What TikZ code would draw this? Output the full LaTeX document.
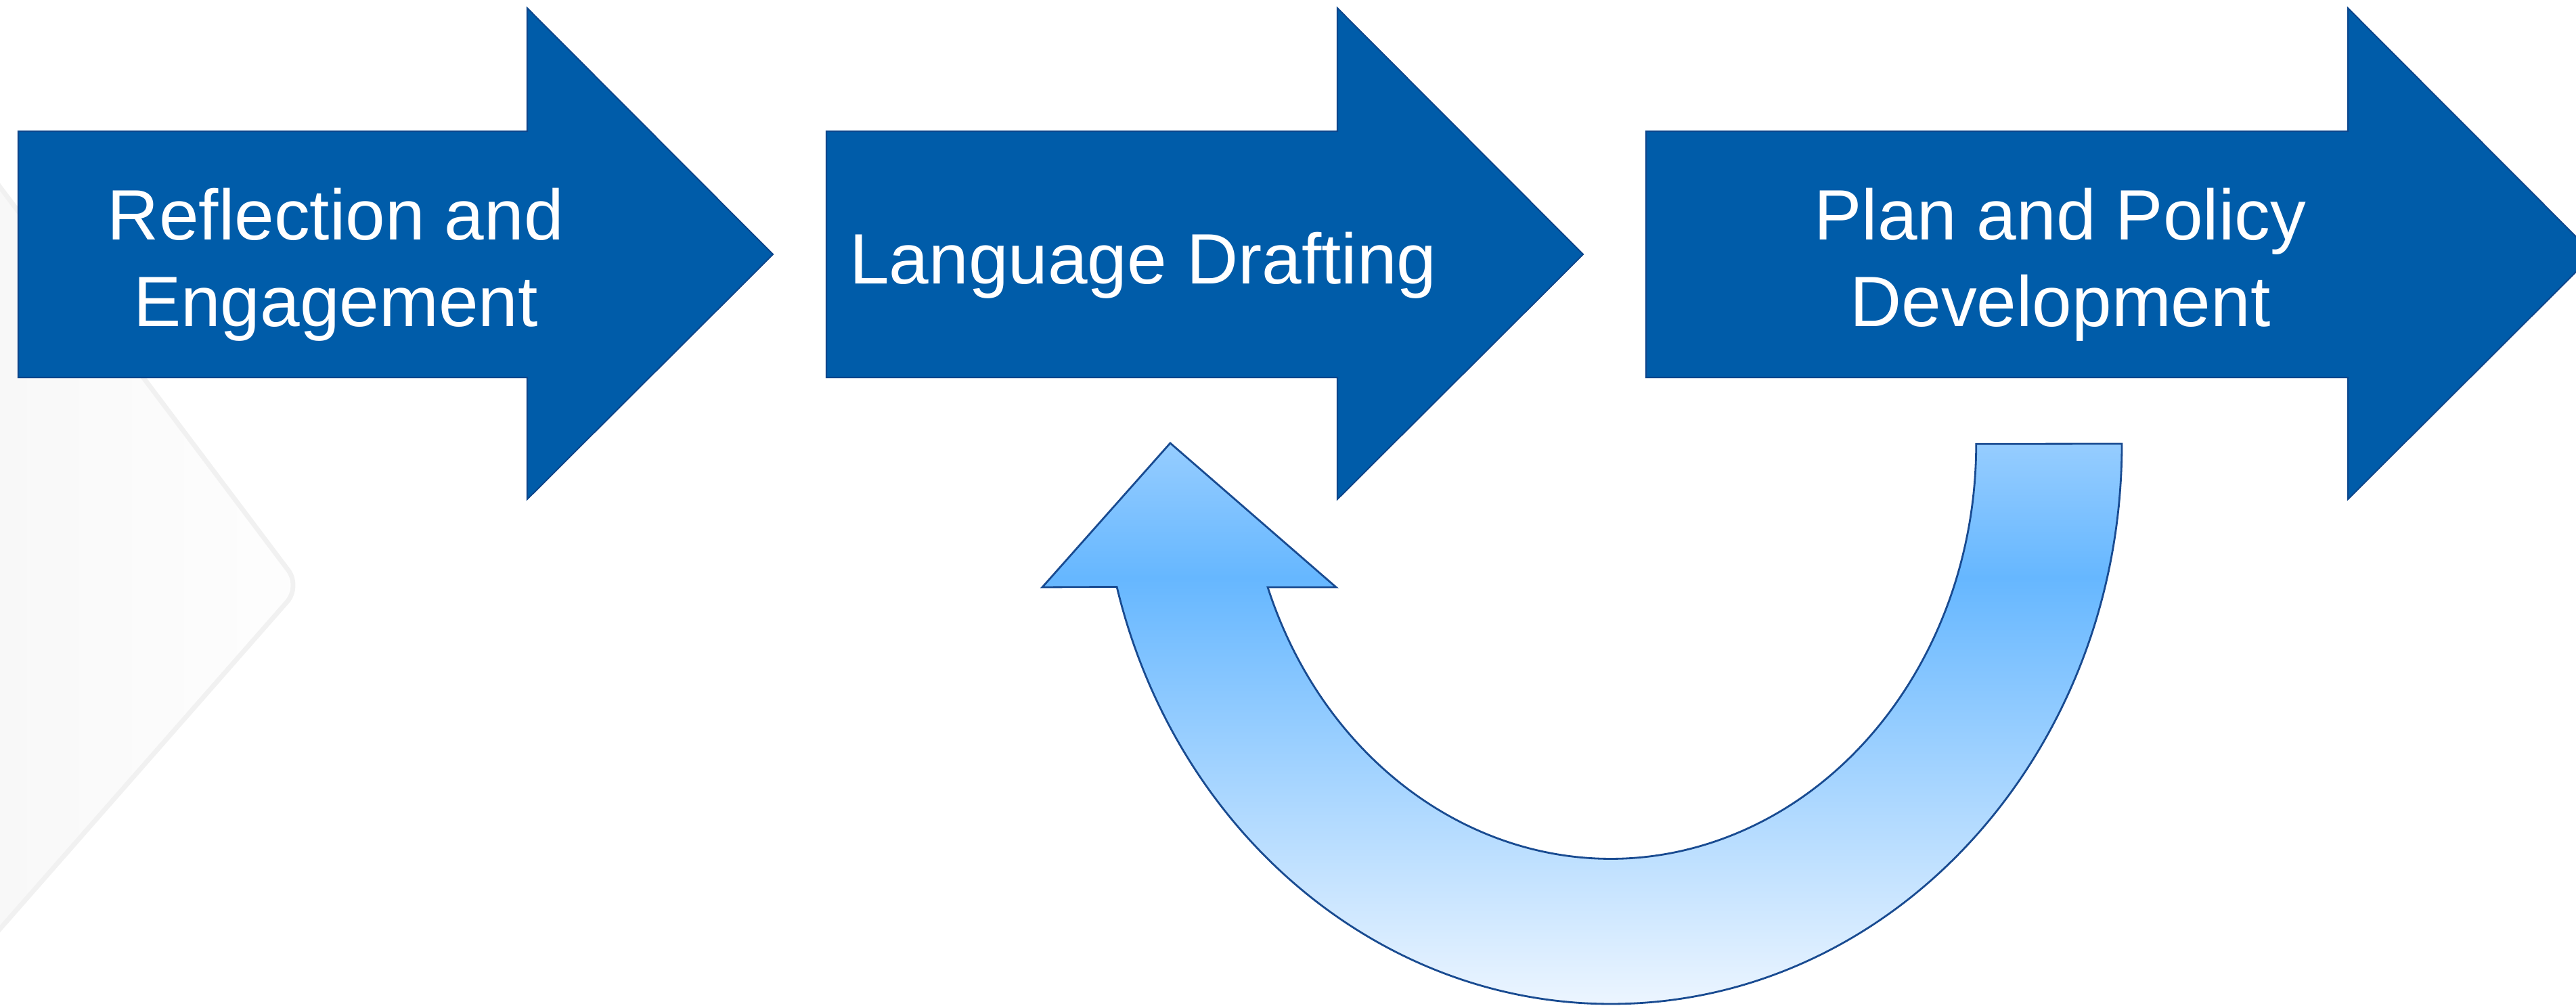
\documentclass[tikz,border=0pt]{standalone}
\usepackage{xcolor}
\usepackage{tikz}
\usepackage{fontspec}
\setmainfont{Liberation Sans}
\usetikzlibrary{arrows.meta, calc, shapes}
\definecolor{stageblue}{RGB}{0,92,169}
\definecolor{stageedge}{RGB}{12,70,140}
\definecolor{loopedge}{RGB}{25,75,145}
\definecolor{looptop}{RGB}{150,205,255}
\definecolor{loopmid}{RGB}{102,183,255}
\definecolor{loopbot}{RGB}{236,245,255}
\pgfdeclareverticalshading{loopshade}{100bp}{color(0bp)=(loopbot); color(25bp)=(loopbot); color(63bp)=(loopmid); color(75bp)=(looptop); color(100bp)=(looptop)}
\tikzstyle{stagearrow} = [fill=stageblue, draw=stageedge, line width=0.6pt, line join=miter]
\tikzstyle{stagetext} = [text=white, font=\fontsize{30}{36.5}\selectfont, align=center, inner sep=0pt]
\tikzstyle{looparrow} = [draw=loopedge, line width=0.8pt, shading=loopshade]
\tikzstyle{backdrop} = [left color=gray!6, right color=gray!1]
% #1 = tail x, #2 = x where the head starts
\newcommand{\stageshape}[2]{%
  \draw[stagearrow] (#1,9.32) -- (#2,9.32) -- (#2,7.52) -- ({#2+3.63},11.14)
    -- (#2,14.78) -- (#2,12.96) -- (#1,12.96) -- cycle;
}

\begin{document}
\begin{tikzpicture}
  \useasboundingbox (0,0) rectangle (38.06,14.90);
  \clip (0,0) rectangle (38.06,14.90);

  % faint slide backdrop
  \fill[backdrop, rounded corners=0.3cm] (-0.5,12.80) -- (4.44,6.23) -- (-0.5,0.60) -- cycle;
  \draw[gray!11, line width=2pt, rounded corners=0.3cm] (-0.5,12.80) -- (4.44,6.23) -- (-0.5,0.60);

  % stages
  \stageshape{0.27}{7.79}
  \stageshape{12.21}{19.76}
  \stageshape{24.32}{34.69}

  \node[stagetext] (reflect) at (4.96,10.99) {Reflection and\\Engagement};
  \node[stagetext, anchor=base] (drafting) at (16.89,10.70) {Language Drafting};
  \node[stagetext] (policy) at (30.44,10.99) {Plan and Policy\\Development};

  % feedback loop
  \path[looparrow] (31.35,8.34) arc[start angle=0, end angle=-165.2, x radius=7.55, y radius=8.28]
    -- (15.40,6.22) -- (17.29,8.35) -- (19.74,6.22) -- (18.73,6.22)
    arc[start angle=-159.8, end angle=0, x radius=5.40, y radius=6.13]
    -- cycle;
\end{tikzpicture}
\end{document}
